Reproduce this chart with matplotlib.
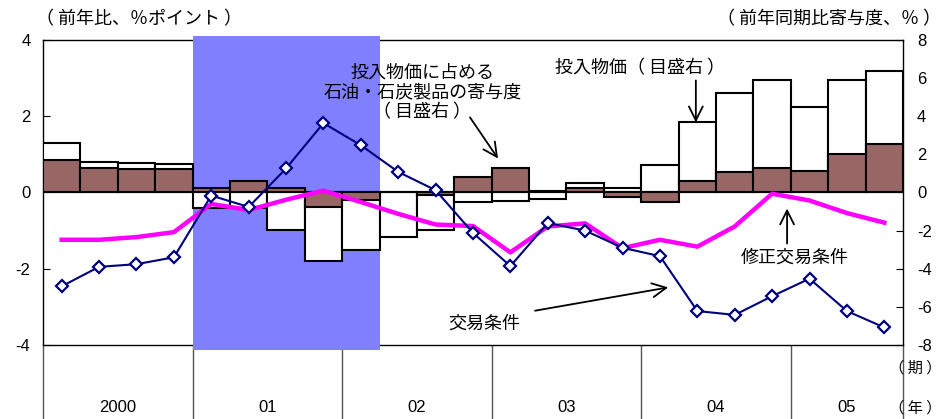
import numpy as np
import matplotlib.pyplot as plt

plt.rcParams['font.family'] = ['Liberation Sans', 'Noto Sans CJK JP']
plt.rcParams['axes.unicode_minus'] = False

JP = 'Noto Sans CJK JP'

# quarterly data, 2000 Q1 - 2005 Q3
years = ['2000', '01', '02', '03', '04', '05']
quarters_per_year = [4, 4, 4, 4, 4, 3]

# left scale: 前年比, %ポイント
terms_of_trade = [-2.46, -1.95, -1.88, -1.70, -0.08, -0.38, 0.63, 1.82,
                  1.24, 0.54, 0.06, -1.06, -1.93, -0.80, -1.00, -1.45,
                  -1.67, -3.11, -3.21, -2.72, -2.26, -3.11, -3.54]
adj_terms_of_trade = [-1.24, -1.24, -1.17, -1.04, -0.30, -0.46, -0.19, 0.05,
                      -0.25, -0.56, -0.84, -0.88, -1.57, -0.89, -0.81, -1.46,
                      -1.24, -1.42, -0.89, -0.03, -0.21, -0.54, -0.79]

# right scale: 前年同期比寄与度, %
input_price = [2.62, 1.61, 1.57, 1.47, -0.80, -0.80, -1.98, -3.60,
               -3.04, -2.33, -1.98, -0.49, -0.46, -0.32, 0.52, 0.26,
               1.42, 3.69, 5.21, 5.88, 4.48, 5.89, 6.35]
oil_coal = [1.69, 1.26, 1.21, 1.21, 0.26, 0.62, 0.21, -0.77,
            -0.37, 0.05, -0.15, 0.79, 1.29, 0.10, 0.21, -0.23,
            -0.49, 0.59, 1.05, 1.26, 1.12, 2.01, 2.53]

# recession shading: 2001 Q1 - 2002 Q1
shade_start, shade_end = 4, 8

x = np.arange(len(terms_of_trade))

fig = plt.figure(figsize=(9.42, 4.19), dpi=100)
axl = fig.add_axes([43 / 942, 74 / 419, 860 / 942, 305 / 419])
axr = axl.twinx()
axl.set_zorder(axr.get_zorder() + 1)
axl.patch.set_visible(False)

# bars on the right scale
axr.axvspan(shade_start - 0.5, shade_end + 0.5, ymin=-0.016, ymax=1.013,
            color='#8080FF', lw=0, zorder=2.6, clip_on=False)
axr.bar(x, input_price, width=1.0, color='white', edgecolor='black',
        linewidth=1.5, zorder=3)
axr.bar(x, oil_coal, width=1.0, color='#996666', edgecolor='black',
        linewidth=1.5, zorder=3.1)
axr.set_ylim(-8, 8)
axr.set_yticks(np.arange(-8, 9, 2))

# lines on the left scale
axl.plot(x, adj_terms_of_trade, color='#FF00FF', lw=3.2, zorder=3)
axl.plot(x, terms_of_trade, color='#000080', lw=1.5, marker='D',
         markersize=6.5, markerfacecolor='white', markeredgecolor='#000080',
         markeredgewidth=1.6, zorder=4)
axl.set_ylim(-4, 4)
axl.set_yticks(np.arange(-4, 5, 2))
axl.set_xlim(-0.5, len(x) - 0.5)

for s in axl.spines.values():
    s.set_visible(False)
for s in axr.spines.values():
    s.set_linewidth(1.0)
    s.set_zorder(2.5)

axl.tick_params(axis='y', direction='in', length=5, pad=9, labelsize=12)
axr.tick_params(axis='y', direction='in', length=5, pad=10, labelsize=12)
axl.set_xticks([])
axr.set_xticks([])

# year separators and labels below the plot
bounds = np.concatenate([[0], np.cumsum(quarters_per_year)]) - 0.5
trans = axr.get_xaxis_transform()
axr.vlines(bounds, -0.243, 0, transform=trans, colors='#555555', lw=1.0,
           clip_on=False)
for i, yr in enumerate(years):
    axr.text((bounds[i] + bounds[i + 1]) / 2, -0.205, yr, transform=trans,
             ha='center', va='center', fontsize=12)

right_x = 0.999
fig.text(right_x, 1 - 368 / 419, '（ 期 ）', ha='right', va='center',
         fontsize=11, family=JP)
fig.text(right_x, 1 - 408 / 419, '（ 年 ）', ha='right', va='center',
         fontsize=11, family=JP)
fig.text(36 / 942, 1 - 19 / 419, '（ 前年比、％ポイント ）', ha='left',
         va='center', fontsize=13, family=JP)
fig.text(right_x, 1 - 19 / 419, '（ 前年同期比寄与度、％ ）', ha='right',
         va='center', fontsize=13, family=JP)

# annotations
arrow = dict(arrowstyle='->,head_length=1.0,head_width=0.5', color='black',
             lw=1.3, shrinkA=0, shrinkB=0)
axl.text(9.64, 2.62, '投入物価に占める\n石油・石炭製品の寄与度\n（ 目盛右 ）',
         ha='center', va='center', fontsize=13, family=JP, linespacing=1.15,
         zorder=5)
axl.annotate('', xy=(11.67, 0.89), xytext=(10.92, 1.97), arrowprops=arrow,
             zorder=5)
axl.text(15.47, 3.25, '投入物価（ 目盛右 ）', ha='center', va='center',
         fontsize=13, family=JP, zorder=5)
axl.annotate('', xy=(16.96, 1.84), xytext=(16.96, 2.94), arrowprops=arrow,
             zorder=5)
axl.text(19.59, -1.71, '修正交易条件', ha='center', va='center',
         fontsize=13, family=JP, zorder=5)
axl.annotate('', xy=(19.40, -0.42), xytext=(19.40, -1.34), arrowprops=arrow,
             zorder=5)
axl.text(11.29, -3.44, '交易条件', ha='center', va='center',
         fontsize=13, family=JP, zorder=5)
axl.annotate('', xy=(16.22, -2.49), xytext=(12.66, -3.10), arrowprops=arrow,
             zorder=5)

fig.savefig('out.png', dpi=100)
